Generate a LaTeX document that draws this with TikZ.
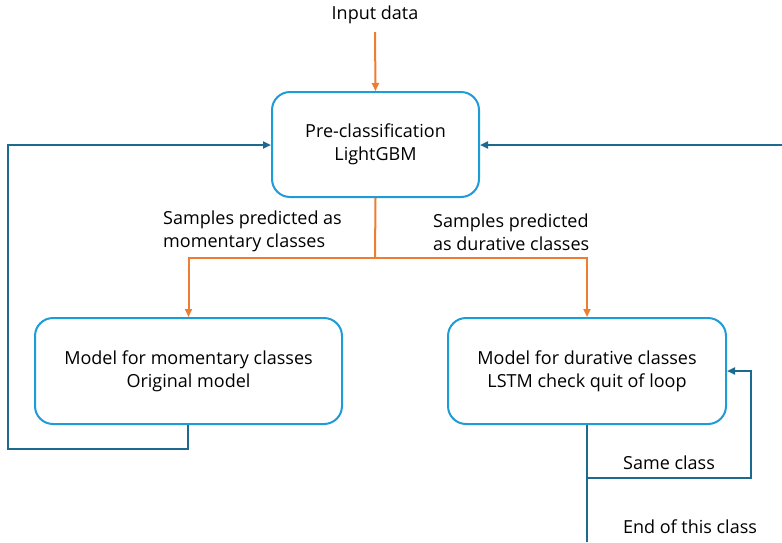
\documentclass[tikz,border=0pt]{standalone}
\usepackage{fontspec}
\setmainfont{Open Sans}
\usetikzlibrary{arrows.meta}
\definecolor{flowor}{HTML}{ED7D31}
\definecolor{loopblue}{HTML}{1D6A91}
\definecolor{boxblue}{HTML}{1E9CD7}
\tikzset{
  stagebox/.style={draw=boxblue, line width=2pt, rounded corners=18pt, fill=white,
    align=center, inner sep=0pt, font=\fontsize{18}{23}\selectfont},
  txt/.style={inner sep=0pt, font=\fontsize{18}{23}\selectfont},
  orflow/.style={draw=flowor, line width=2pt},
  orarrow/.style={orflow, -{Triangle[length=8pt,width=7pt]}},
  loopline/.style={draw=loopblue, line width=2pt},
  looparrow/.style={loopline, -{Triangle[length=8pt,width=7pt]}},
}
\begin{document}
\begin{tikzpicture}[x=1pt,y=-1pt]
\useasboundingbox (0,0) rectangle (782,542);

% processing stages
\node[stagebox, minimum width=207pt, minimum height=105pt] (pre) at (375.5,144.5)
  {Pre-classification\\LightGBM};
\node[stagebox, minimum width=307pt, minimum height=106pt] (mom) at (188.5,371)
  {Model for momentary classes\\Original model};
\node[stagebox, minimum width=278pt, minimum height=106pt] (dur) at (587,371)
  {Model for durative classes\\LSTM check quit of loop};

% labels
\node[txt] (input) at (375,15) {Input data};
\node[txt, align=left, anchor=west] (lblmom) at (163,231) {Samples predicted as\\momentary classes};
\node[txt, align=left, anchor=west] (lbldur) at (433,232) {Samples predicted\\as durative classes};
\node[txt] (same) at (669,463) {Same class};
\node[txt] (endc) at (690,527) {End of this class};

% input arrow
\draw[orarrow] (input.south |- 0,32) -- (pre.north);

% split into the two stages
\coordinate (split) at (375,258);
\draw[orflow] (pre.south) -- (split);
\draw[orarrow] (split) -| (mom.north);
\draw[orarrow] (split) -| (dur.north);

% momentary branch feeds back to the pre-classifier
\coordinate (mb) at (188,449);
\coordinate (ml) at (8,449);
\coordinate (mt) at (8,145);
\draw[looparrow] (mom.south -| mb) -- (mb) -- (ml) -- (mt) -- (pre.west |- mt);

% feedback from the right edge
\coordinate (rin) at (782,145);
\draw[looparrow] (rin) -- (pre.east |- rin);

% durative loop
\coordinate (db) at (587,478);
\coordinate (dr) at (751,478);
\coordinate (dt) at (751,371);
\draw[looparrow] (dur.south) -- (db) -- (dr) -- (dt) -- (dur.east |- dt);
\coordinate (dexit) at (587,542);
\draw[loopline] (db) -- (dexit);
\end{tikzpicture}
\end{document}
